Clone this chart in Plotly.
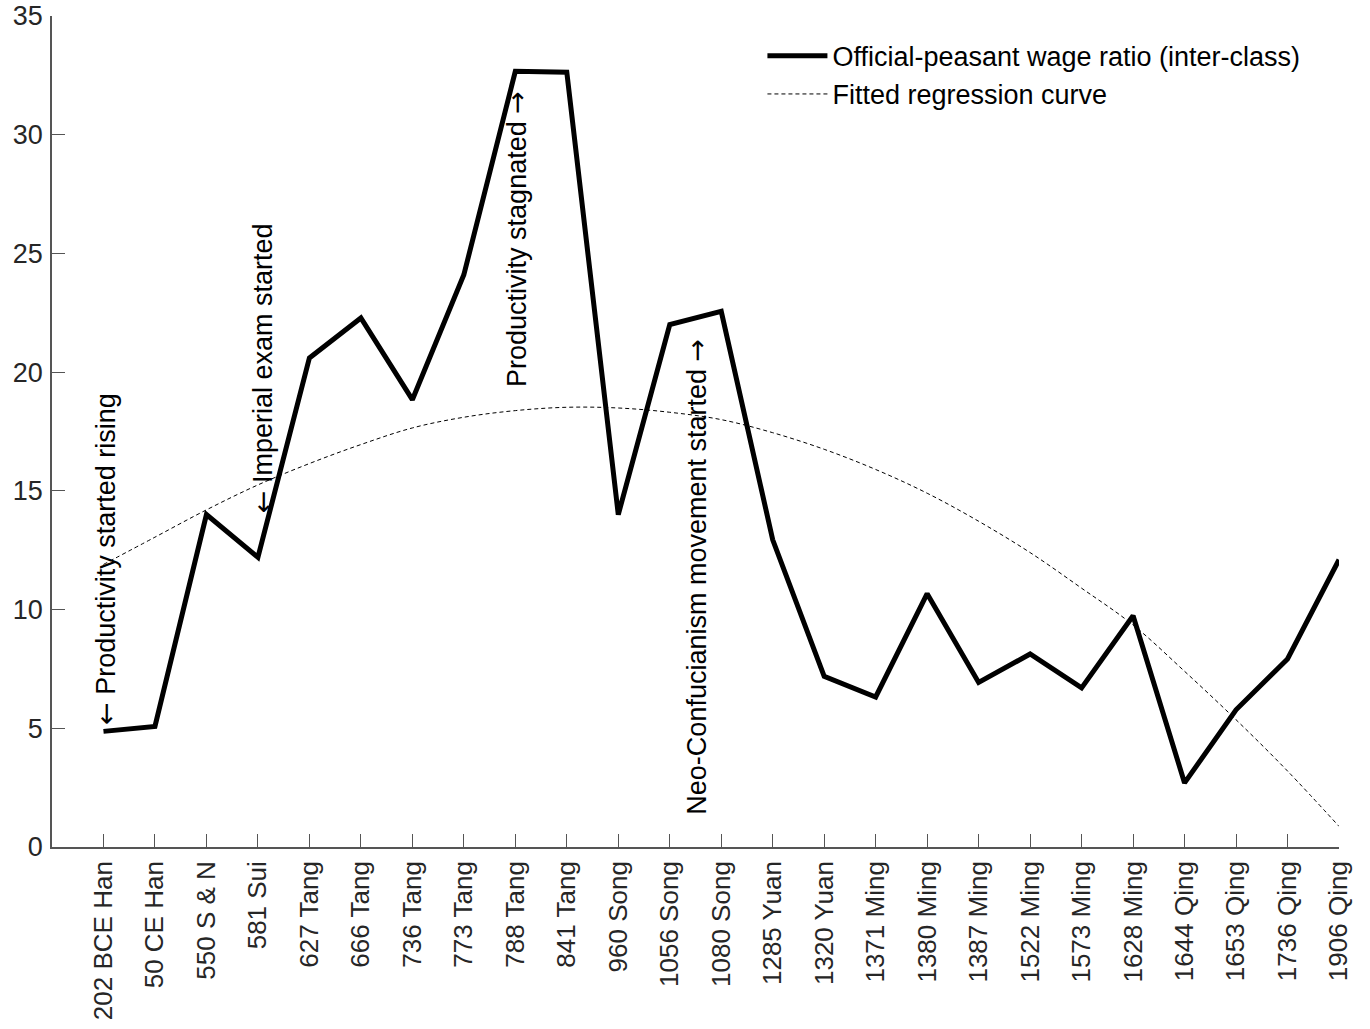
import plotly.graph_objects as go

categories = ["202 BCE Han", "50 CE Han", "550 S & N", "581 Sui", "627 Tang", "666 Tang",
              "736 Tang", "773 Tang", "788 Tang", "841 Tang", "960 Song", "1056 Song",
              "1080 Song", "1285 Yuan", "1320 Yuan", "1371 Ming", "1380 Ming", "1387 Ming",
              "1522 Ming", "1573 Ming", "1628 Ming", "1644 Qing", "1653 Qing", "1736 Qing",
              "1906 Qing"]

wage_ratio = [4.87, 5.08, 14.0, 12.2, 20.6, 22.28, 18.84, 24.1, 32.67, 32.63, 14.0, 22.0,
              22.56, 12.94, 7.19, 6.32, 10.67, 6.93, 8.13, 6.70, 9.74, 2.70, 5.78, 7.92, 12.10]

fitted_curve = [11.9, 13.05, 14.2, 15.25, 16.15, 16.95, 17.65, 18.1, 18.38, 18.52, 18.49,
                18.31, 18.0, 17.45, 16.75, 15.9, 14.9, 13.72, 12.4, 10.9, 9.35, 7.4, 5.36,
                3.2, 0.87]

y_ticks = [0, 5, 10, 15, 20, 25, 30, 35]

series_names = ["Official-peasant wage ratio (inter-class)", "Fitted regression curve"]

ARROW_L = '<span style="font-family:DejaVu Sans">\u2190</span>'
ARROW_R = '<span style="font-family:DejaVu Sans">\u2192</span>'

notes = [
    (ARROW_L + " Productivity started rising", 0.05, 5.1, "bottom"),
    (ARROW_L + " Imperial exam started", 3.09, 14.0, "bottom"),
    ("Productivity stagnated " + ARROW_R, 8.02, 31.9, "top"),
    ("Neo-Confucianism movement started " + ARROW_R, 11.52, 1.3, "bottom"),
]

FONT = "Liberation Sans, Arial, Helvetica, sans-serif"
idx = list(range(len(categories)))

fig = go.Figure()
fig.add_trace(go.Scatter(x=idx, y=wage_ratio, mode="lines", name=series_names[0],
                         line=dict(color="black", width=5)))
fig.add_trace(go.Scatter(x=idx, y=fitted_curve, mode="lines", name=series_names[1],
                         line=dict(color="black", width=1, dash="4px,3px", shape="spline")))

for text, xv, yv, ya in notes:
    fig.add_annotation(x=xv, y=yv, text=text, textangle=-90, showarrow=False,
                       xanchor="center", yanchor=ya, borderpad=0,
                       font=dict(family=FONT, size=27, color="black"))

fig.update_layout(
    width=1370, height=1029,
    margin=dict(l=52, r=31, t=16, b=182, autoexpand=False),
    paper_bgcolor="white", plot_bgcolor="white",
    font=dict(family=FONT, size=27, color="#262626"),
    showlegend=True,
    legend=dict(x=0.552, y=0.981, xanchor="left", yanchor="top",
                bgcolor="rgba(0,0,0,0)", font=dict(size=27, color="black"),
                itemwidth=60, tracegroupgap=0),
)
fig.update_xaxes(range=[-1, 24], tickmode="array", tickvals=idx, ticktext=categories,
                 tickangle=-90, ticks="inside", ticklen=13, tickcolor="#555555",
                 showline=True, linecolor="#555555", linewidth=1.5, showgrid=False,
                 zeroline=False, tickfont=dict(size=26, color="#262626"),
                 automargin=False, ticklabelstandoff=2)
fig.update_yaxes(range=[0, 35], tickmode="array", tickvals=y_ticks,
                 ticks="inside", ticklen=13, tickcolor="#555555",
                 showline=True, linecolor="#555555", linewidth=1.5, showgrid=False,
                 zeroline=False, tickfont=dict(size=27, color="#262626"),
                 ticklabelstandoff=2, automargin=False)

fig.write_html("out.html")
